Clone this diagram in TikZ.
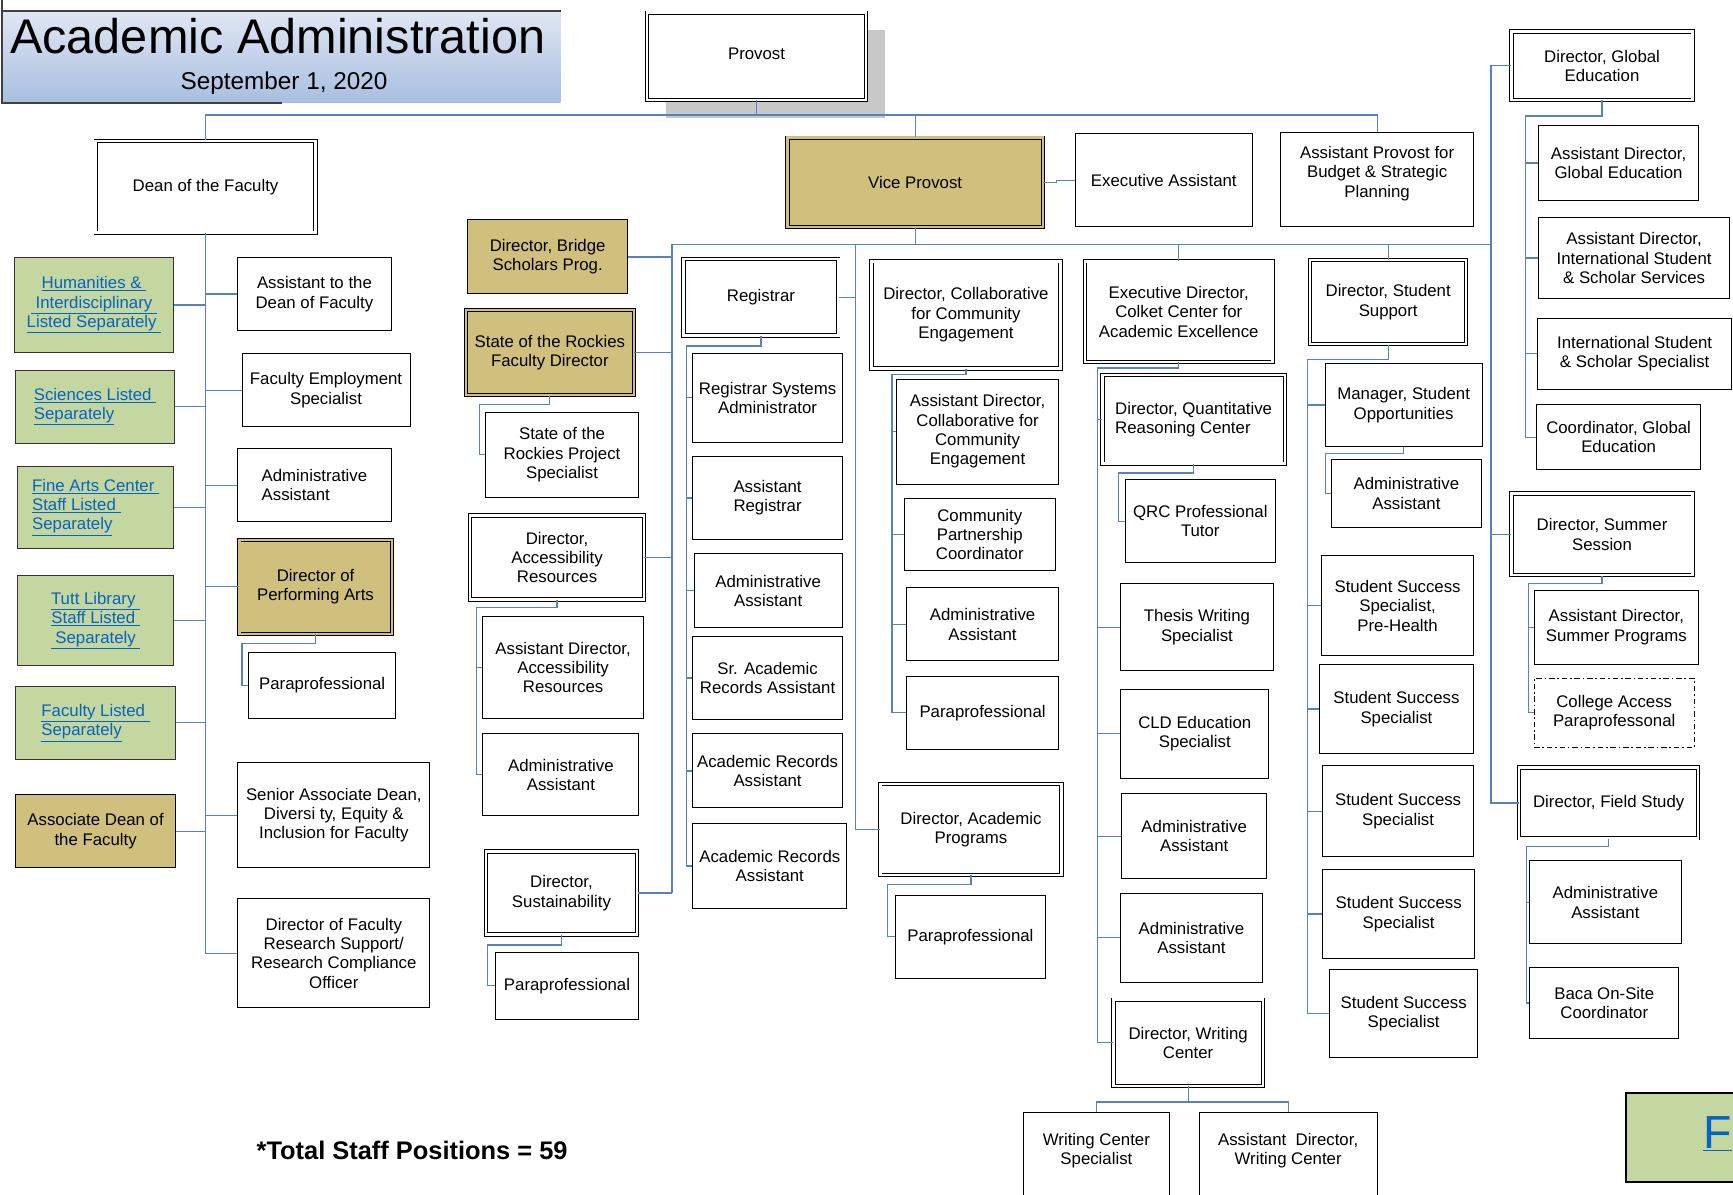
\documentclass[tikz,border=0pt]{standalone}
\usepackage{fontspec}
\setmainfont{Liberation Sans}
\usepackage{xcolor}
\usepackage{tikz}
\usetikzlibrary{positioning, calc, shadows}

\definecolor{gold}{RGB}{207,193,125}
\definecolor{sage}{RGB}{196,215,160}
\definecolor{wireblue}{RGB}{84,130,196}
\definecolor{linkblue}{RGB}{5,99,193}
\definecolor{titletop}{RGB}{224,231,243}
\definecolor{titlebot}{RGB}{168,190,224}
\definecolor{shadowgray}{RGB}{200,200,200}

\newcommand{\lnk}[1]{\textcolor{linkblue}{\underline{#1}}}

\begin{document}
\begin{tikzpicture}[
    x=1pt, y=-1pt,
    font=\fontsize{15.2}{17.5}\selectfont,
    post/.style={rectangle, draw=black, line width=0.9pt, fill=white, align=center, inner sep=1pt},
    headpost/.style={post, double=white, double distance=2.2pt, line width=0.8pt},
    goldpost/.style={post, fill=gold},
    goldhead/.style={headpost, fill=gold, double=gold},
    listbox/.style={rectangle, draw=black!80, line width=1pt, fill=sage, align=left, inner sep=1pt},
    dashpost/.style={post, dash pattern=on 5pt off 2.5pt on 1.5pt off 2.5pt},
    wire/.style={draw=wireblue, line width=1.1pt},
    titleline/.style={draw=black!75, line width=1.3pt},
]
\useasboundingbox (0,0) rectangle (1568,1081);
\clip (0,0) rectangle (1568,1081);

\node[rectangle, top color=titletop, bottom color=titlebot, minimum width=505pt, minimum height=83pt, inner sep=0pt] (title) at (254.5,51.5) {};
\draw[titleline] (title.north west) -- (title.north east);
\draw[titleline] (title.north west) -- ++(0,-10);
\draw[titleline] (title.north west) -- (title.south west) -- ++(253,0);
\node[anchor=base west, inner sep=0pt, font=\fontsize{44}{50}\selectfont] (head) at (9,48) {Academic Administration};
\node[anchor=base, inner sep=0pt, font=\fontsize{22}{26}\selectfont] (date) at (257,81) {September 1, 2020};

\node[headpost, minimum width=198pt, minimum height=79pt, general shadow={fill=shadowgray, shadow xshift=17pt, shadow yshift=-16pt}] (provost) at (684.5,51) {Provost\\[-13pt]\mbox{}};
\node[headpost, minimum width=199pt, minimum height=83pt] (dean) at (186,169) {Dean of the Faculty};
\node[goldhead, minimum width=231pt, minimum height=81pt] (vp) at (828,165) {Vice Provost};
\node[post, minimum width=160pt, minimum height=84pt] (execa) at (1053,163) {Executive Assistant};
\node[post, minimum width=174pt, minimum height=85pt] (budget) at (1246,162.5) {Assistant Provost for\\Budget \& Strategic\\Planning\\[-3.5pt]\mbox{}};

\node[listbox, align=center, minimum width=144pt, minimum height=86pt] (hum) at (85,276) {\lnk{Humanities \&\ }\\\lnk{\ Interdisciplinary\ }\\\lnk{Listed Separately\ }};
\node[listbox, minimum width=144pt, minimum height=66pt] (sci) at (86,368) {\lnk{Sciences Listed\ }\\\lnk{Separately}};
\node[listbox, minimum width=141pt, minimum height=74pt] (fine) at (86.5,459) {\lnk{Fine Arts Center\ }\\\lnk{Staff Listed\ }\\\lnk{Separately}};
\node[listbox, align=center, minimum width=141pt, minimum height=81pt] (tutt) at (86.5,561.5) {\lnk{Tutt Library\ }\\\lnk{Staff Listed\ }\\\lnk{\ Separately\ }};
\node[listbox, minimum width=145pt, minimum height=66pt] (fac) at (86.5,654) {\lnk{Faculty Listed\ }\\\lnk{Separately}};
\node[goldpost, minimum width=145pt, minimum height=66pt] (assoc) at (86.5,752) {Associate Dean of\\the Faculty};

\node[post, minimum width=139pt, minimum height=66pt] (asstdean) at (284.5,266) {Assistant to the\\Dean of Faculty};
\node[post, minimum width=152pt, minimum height=66pt] (facemp) at (295,353) {Faculty Employment\\Specialist};
\node[post, align=left, minimum width=139pt, minimum height=66pt] (admind) at (284.5,439) {Administrative\\Assistant};
\node[goldhead, minimum width=138pt, minimum height=85pt] (perf) at (285.5,531) {Director of\\Performing Arts};
\node[post, minimum width=133pt, minimum height=60pt] (para1) at (291.5,620) {Paraprofessional};
\node[post, minimum width=174pt, minimum height=95pt] (senior) at (302,737.5) {Senior Associate Dean,\\Diversi ty, Equity \&\\Inclusion for Faculty};
\node[post, minimum width=174pt, minimum height=99pt] (research) at (302,862.5) {Director of Faculty\\Research Support/\\Research Compliance\\Officer};

\node[goldpost, minimum width=145pt, minimum height=67pt] (bridge) at (495.5,232.5) {Director, Bridge\\Scholars Prog.};
\node[goldhead, minimum width=152pt, minimum height=77pt] (rockies) at (497.5,319) {State of the Rockies\\Faculty Director};
\node[post, minimum width=139pt, minimum height=77pt] (rockproj) at (508.5,411.5) {State of the\\Rockies Project\\Specialist};
\node[headpost, minimum width=157pt, minimum height=76pt] (access) at (504,504.5) {Director,\\Accessibility\\Resources};
\node[post, minimum width=145pt, minimum height=92pt] (assacc) at (509.5,604) {Assistant Director,\\Accessibility\\Resources};
\node[post, minimum width=141pt, minimum height=74pt] (adminacc) at (507.5,701) {Administrative\\Assistant};
\node[headpost, minimum width=137pt, minimum height=75pt] (sustain) at (508,808) {Director,\\Sustainability};
\node[post, minimum width=130pt, minimum height=60pt] (para2) at (513,892) {Paraprofessional};

\node[headpost, minimum width=140pt, minimum height=69pt] (reg) at (688.5,269) {Registrar};
\node[post, minimum width=135pt, minimum height=80pt] (regsys) at (694.5,360) {Registrar Systems\\Administrator};
\node[post, minimum width=135pt, minimum height=75pt] (asstreg) at (694.5,450.5) {Assistant\\Registrar};
\node[post, minimum width=134pt, minimum height=67pt] (adminreg) at (695,534.5) {Administrative\\Assistant};
\node[post, minimum width=135pt, minimum height=75pt] (sracad) at (694.5,613.5) {Sr. Academic\\Records Assistant};
\node[post, minimum width=135pt, minimum height=67pt] (acadrec1) at (694.5,697.5) {Academic Records\\Assistant};
\node[post, minimum width=139pt, minimum height=77pt] (acadrec2) at (696.5,783.5) {Academic Records\\Assistant};

\node[headpost, minimum width=171pt, minimum height=97pt] (collab) at (874,285) {Director, Collaborative\\for Community\\Engagement};
\node[post, minimum width=147pt, minimum height=95pt] (asscollab) at (884.5,390.5) {Assistant Director,\\Collaborative for\\Community\\Engagement};
\node[post, minimum width=137pt, minimum height=65pt] (commpart) at (886.5,483.5) {Community\\Partnership\\Coordinator};
\node[post, minimum width=138pt, minimum height=66pt] (admincol) at (889,565) {Administrative\\Assistant};
\node[post, minimum width=138pt, minimum height=66pt] (paracol) at (889,645) {Paraprofessional};
\node[headpost, minimum width=164pt, minimum height=82pt] (acadprog) at (878.5,750.5) {Director, Academic\\Programs};
\node[post, minimum width=136pt, minimum height=75pt] (paraacad) at (878,847.5) {Paraprofessional};

\node[headpost, minimum width=170pt, minimum height=91pt] (colket) at (1066.5,282) {Executive Director,\\Colket Center for\\Academic Excellence};
\node[headpost, align=left, minimum width=165pt, minimum height=80pt] (quant) at (1080,379.5) {Director, Quantitative\\Reasoning Center};
\node[post, minimum width=136pt, minimum height=75pt] (qrc) at (1086,471.5) {QRC Professional\\Tutor};
\node[post, minimum width=138pt, minimum height=79pt] (thesis) at (1083,567.5) {Thesis Writing\\Specialist};
\node[post, minimum width=134pt, minimum height=80pt] (cld) at (1081,664) {CLD Education\\Specialist};
\node[post, minimum width=131pt, minimum height=77pt] (admink1) at (1080.5,756.5) {Administrative\\Assistant};
\node[post, minimum width=128pt, minimum height=81pt] (admink2) at (1078,848.5) {Administrative\\Assistant};
\node[headpost, minimum width=135pt, minimum height=78pt] (writing) at (1075,943.5) {Director, Writing\\Center};
\node[post, minimum width=132pt, minimum height=88pt] (wcspec) at (992,1051) {Writing Center\\Specialist\\[6pt]\mbox{}};
\node[post, minimum width=161pt, minimum height=88pt] (asswc) at (1165.5,1051) {Assistant\ \ Director,\\Writing Center\\[6pt]\mbox{}};

\node[headpost, minimum width=141pt, minimum height=76pt] (stusup) at (1256,273.5) {Director, Student\\Support};
\node[post, minimum width=142pt, minimum height=75pt] (mgr) at (1270,366.5) {Manager, Student\\Opportunities};
\node[post, minimum width=135pt, minimum height=61pt] (adminsup) at (1272.5,446.5) {Administrative\\Assistant};
\node[post, minimum width=137pt, minimum height=90pt] (ssph) at (1264.5,548) {Student Success\\Specialist,\\Pre-Health};
\node[post, minimum width=139pt, minimum height=81pt] (ss1) at (1263.5,641.5) {Student Success\\Specialist};
\node[post, minimum width=136pt, minimum height=82pt] (ss2) at (1265,734) {Student Success\\Specialist};
\node[post, minimum width=137pt, minimum height=80pt] (ss3) at (1265.5,827) {Student Success\\Specialist};
\node[post, minimum width=134pt, minimum height=80pt] (ss4) at (1270,917) {Student Success\\Specialist};

\node[headpost, minimum width=164pt, minimum height=62pt] (global) at (1449.5,59.5) {Director, Global\\Education};
\node[post, minimum width=145pt, minimum height=67pt] (assglob) at (1464.5,147.5) {Assistant Director,\\Global Education};
\node[post, minimum width=173pt, minimum height=73pt] (assintl) at (1478.5,233.5) {Assistant Director,\\International Student\\\& Scholar Services};
\node[post, minimum width=176pt, minimum height=64pt] (intl) at (1479,320) {International Student\\\& Scholar Specialist};
\node[post, minimum width=149pt, minimum height=59pt] (coordglob) at (1464.5,395.5) {Coordinator, Global\\Education};
\node[headpost, minimum width=164pt, minimum height=74pt] (summer) at (1449.5,483.5) {Director, Summer\\Session};
\node[post, minimum width=149pt, minimum height=67pt] (asssummer) at (1462.5,567.5) {Assistant Director,\\Summer Programs};
\node[dashpost, minimum width=145pt, minimum height=62pt] (college) at (1460.5,645) {College Access\\Paraprofessonal};
\node[headpost, minimum width=162pt, minimum height=64pt] (field) at (1455.5,726.5) {Director, Field Study};
\node[post, minimum width=137pt, minimum height=75pt] (adminfield) at (1452.5,816.5) {Administrative\\Assistant};
\node[post, minimum width=135pt, minimum height=65pt] (baca) at (1451.5,907.5) {Baca On-Site\\Coordinator};

\node[listbox, draw=black, line width=1.8pt, minimum width=129pt, minimum height=80pt] (fbox) at (1535.5,1029) {};
\node[anchor=base west, inner sep=0pt, font=\fontsize{42}{46}\selectfont] (ftext) at (1541,1039) {\lnk{F}};

\node[anchor=base west, inner sep=0pt, font=\bfseries\fontsize{23}{27}\selectfont] (total) at (232,1049) {*Total Staff Positions = 59};

\coordinate (topbar) at (685,104);
\draw[wire] (dean.north) |- (budget.north |- topbar) -- (budget.north);
\draw[wire] (provost.south) -- (provost.south |- topbar);
\draw[wire] (vp.north) -- (vp.north |- topbar);
\draw[wire] (vp.east) -- ++(12,0) |- (execa.west);

\draw[wire] (dean.south) -- (dean.south |- research.west) -- (research.west);
\draw[wire] (hum.east) -- (hum.east -| dean.south);
\draw[wire] (sci.east) -- (sci.east -| dean.south);
\draw[wire] (fine.east) -- (fine.east -| dean.south);
\draw[wire] (tutt.east) -- (tutt.east -| dean.south);
\draw[wire] (fac.east) -- (fac.east -| dean.south);
\draw[wire] (assoc.east) -- (assoc.east -| dean.south);
\draw[wire] (asstdean.west) -- (asstdean.west -| dean.south);
\draw[wire] (facemp.west) -- (facemp.west -| dean.south);
\draw[wire] (admind.west) -- (admind.west -| dean.south);
\draw[wire] (perf.west) -- (perf.west -| dean.south);
\draw[wire] (senior.west) -- (senior.west -| dean.south);
\coordinate (perfbus) at (219,582);
\draw[wire] (perf.south) |- (perfbus) |- (para1.west);

\coordinate (vpbar) at (828,221);
\coordinate (leftbus) at (608,221);
\coordinate (midbus) at (774,221);
\coordinate (rightbus) at (1349,221);
\draw[wire] (vp.south) -- (vpbar);
\draw[wire] (leftbus |- sustain.east) -- (leftbus) -- (rightbus);
\draw[wire] (global.west) -| (rightbus |- field.west) -- (field.west);
\draw[wire] (summer.west) -- (summer.west -| rightbus);
\draw[wire] (midbus) -- (midbus |- acadprog.west) -- (acadprog.west);
\draw[wire] (reg.east) -- (reg.east -| midbus);
\draw[wire] (colket.north) -- (colket.north |- vpbar);
\draw[wire] (stusup.north) -- (stusup.north |- vpbar);
\draw[wire] (bridge.east) -- (bridge.east -| leftbus);
\draw[wire] (rockies.east) -- (rockies.east -| leftbus);
\draw[wire] (access.east) -- (access.east -| leftbus);
\draw[wire] (sustain.east) -- (sustain.east -| leftbus);

\coordinate (rockbus) at (434,366);
\draw[wire] (rockies.south) |- (rockbus) |- (rockproj.west);
\coordinate (accbus) at (431,550);
\draw[wire] (access.south) |- (accbus) |- (adminacc.west);
\draw[wire] (assacc.west) -- (assacc.west -| accbus);
\coordinate (susbus) at (441,855);
\draw[wire] (sustain.south) |- (susbus) |- (para2.west);

\coordinate (regbus) at (621,313);
\draw[wire] (reg.south) |- (regbus) |- (acadrec2.west);
\draw[wire] (regsys.west) -- (regsys.west -| regbus);
\draw[wire] (asstreg.west) -- (asstreg.west -| regbus);
\draw[wire] (adminreg.west) -- (adminreg.west -| regbus);
\draw[wire] (sracad.west) -- (sracad.west -| regbus);
\draw[wire] (acadrec1.west) -- (acadrec1.west -| regbus);

\coordinate (colbus) at (807,339);
\draw[wire] (collab.south) |- (colbus) |- (paracol.west);
\draw[wire] (asscollab.west) -- (asscollab.west -| colbus);
\draw[wire] (commpart.west) -- (commpart.west -| colbus);
\draw[wire] (admincol.west) -- (admincol.west -| colbus);
\coordinate (progbus) at (803,800);
\draw[wire] (acadprog.south) |- (progbus) |- (paraacad.west);

\coordinate (colkbus) at (993,333);
\draw[wire] (colket.south) |- (colkbus) |- (writing.west);
\draw[wire] (quant.west) -- (quant.west -| colkbus);
\draw[wire] (thesis.west) -- (thesis.west -| colkbus);
\draw[wire] (cld.west) -- (cld.west -| colkbus);
\draw[wire] (admink1.west) -- (admink1.west -| colkbus);
\draw[wire] (admink2.west) -- (admink2.west -| colkbus);
\coordinate (qbus) at (1012,428);
\draw[wire] (quant.south) |- (qbus) |- (qrc.west);
\coordinate (wbar) at (1075,997);
\draw[wire] (writing.south) -- (wbar);
\draw[wire] (wcspec.north) |- (wbar) -| (asswc.north);

\coordinate (supbus) at (1183,325);
\draw[wire] (stusup.south) |- (supbus) |- (ss4.west);
\draw[wire] (mgr.west) -- (mgr.west -| supbus);
\draw[wire] (ssph.west) -- (ssph.west -| supbus);
\draw[wire] (ss1.west) -- (ss1.west -| supbus);
\draw[wire] (ss2.west) -- (ss2.west -| supbus);
\draw[wire] (ss3.west) -- (ss3.west -| supbus);
\coordinate (mgrbus) at (1199,410);
\draw[wire] (mgr.south) |- (mgrbus) |- (adminsup.west);

\coordinate (globbus) at (1380,105);
\draw[wire] (global.south) |- (globbus) |- (coordglob.west);
\draw[wire] (assglob.west) -- (assglob.west -| globbus);
\draw[wire] (assintl.west) -- (assintl.west -| globbus);
\draw[wire] (intl.west) -- (intl.west -| globbus);
\coordinate (sumbus) at (1383,528);
\draw[wire] (summer.south) |- (sumbus) |- (college.west);
\draw[wire] (asssummer.west) -- (asssummer.west -| sumbus);
\coordinate (fieldbus) at (1381,766);
\draw[wire] (field.south) |- (fieldbus) |- (baca.west);
\draw[wire] (adminfield.west) -- (adminfield.west -| fieldbus);
\end{tikzpicture}
\end{document}
